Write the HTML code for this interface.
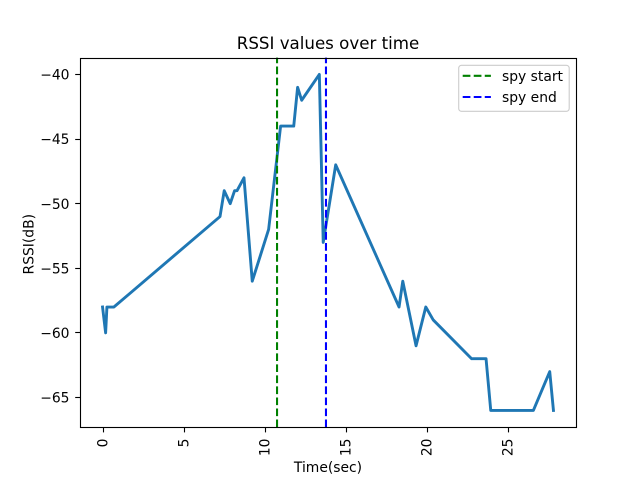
<!DOCTYPE html>
<html>
<head>
<meta charset="utf-8">
<style>
html,body{margin:0;padding:0;background:#fff;width:640px;height:480px;overflow:hidden}
svg{display:block}
text{font-family:"DejaVu Sans",sans-serif;fill:#000;font-size:13.89px}
</style>
</head>
<body>
<svg id="chart" width="640" height="480" viewBox="0 0 640 480" xmlns="http://www.w3.org/2000/svg">
  <rect x="0" y="0" width="640" height="480" fill="#fff"/>
  <rect x="80" y="57.6" width="496" height="369.6" fill="#fff"/>
  <g id="marks"></g>
  <g id="axes"></g>
  <text x="328" y="49" text-anchor="middle" style="font-size:16.67px">RSSI values over time</text>
  <text x="328" y="472" text-anchor="middle">Time(sec)</text>
  <text transform="translate(33.5,244.2) rotate(-90)" text-anchor="middle">RSSI(dB)</text>
  <g>
    <rect x="458.7" y="65.3" width="110.5" height="46" rx="2.8" ry="2.8" fill="#fff" fill-opacity="0.8" stroke="#ccc" stroke-width="1.1"/>
    <line x1="462.7" y1="75.8" x2="490.9" y2="75.8" stroke="#008000" stroke-width="2.08" stroke-dasharray="7.7 3.33"/>
    <text x="502" y="80.8">spy start</text>
    <line x1="462.7" y1="97" x2="490.9" y2="97" stroke="#0000ff" stroke-width="2.08" stroke-dasharray="7.7 3.33"/>
    <text x="502" y="102">spy end</text>
  </g>
</svg>
<script>
const times = [-0.05, 0.14, 0.22, 0.65, 7.2, 7.46, 7.83, 8.1, 8.25, 8.68, 9.19, 10.2, 10.94, 11.75, 11.99, 12.24, 13.33, 13.57, 14.34, 18.25, 18.48, 19.3, 19.9, 20.36, 22.73, 23.62, 23.91, 26.54, 27.55, 27.78];
const rssi = [-58, -60, -58, -58, -51, -49, -50, -49, -49, -48, -56, -52, -44, -44, -41, -42, -40, -53, -47, -58, -56, -61, -58, -59, -62, -62, -66, -66, -63, -66];
const spyStart = [10.72];
const spyEnd = [13.74];
const xTicks = [0, 5, 10, 15, 20, 25];
const yTicks = [-40, -45, -50, -55, -60, -65];

const NS = 'http://www.w3.org/2000/svg';
const L = 80, R = 576, T = 57.6, B = 427.2;
const xMin = -0.05, xMax = 27.78, yMin = -66, yMax = -40;
const xPad = (xMax - xMin) * 0.05, yPad = (yMax - yMin) * 0.05;
function xs(v) { return L + (v - (xMin - xPad)) / ((xMax - xMin) + 2 * xPad) * (R - L); }
function ys(v) { return B - (v - (yMin - yPad)) / ((yMax - yMin) + 2 * yPad) * (B - T); }
function snap(p) { return Math.floor(p) + 0.5; }
function make(tag, attrs, parent, txt) {
  const el = document.createElementNS(NS, tag);
  for (const k in attrs) el.setAttribute(k, attrs[k]);
  if (txt !== undefined) el.textContent = txt;
  parent.appendChild(el);
  return el;
}
const marks = document.getElementById('marks');
const axes = document.getElementById('axes');

const series = make('polyline', {
  points: times.map((t, i) => xs(t).toFixed(2) + ',' + ys(rssi[i]).toFixed(2)).join(' '),
  fill: 'none', stroke: '#1f77b4', 'stroke-width': 2.9, 'stroke-linejoin': 'round', 'stroke-linecap': 'square'
}, marks);



const startLine = make('line', {
  x1: xs(spyStart[0]), x2: xs(spyStart[0]), y1: B, y2: T,
  stroke: '#008000', 'stroke-width': 2.08, 'stroke-dasharray': '7.7 3.33'
}, marks);



const endLine = make('line', {
  x1: xs(spyEnd[0]), x2: xs(spyEnd[0]), y1: B, y2: T,
  stroke: '#0000ff', 'stroke-width': 2.08, 'stroke-dasharray': '7.7 3.33'
}, marks);



xTicks.forEach(v => {
  const x = xs(v);
  const px = snap(x);
  const tick = make('line', { x1: px, x2: px, y1: 427.5, y2: 432.4, stroke: '#000', 'stroke-width': 1.11 }, axes);
  
  
  const label = make('text', { transform: 'translate(' + (x + 4.2) + ',438.5) rotate(-90)', 'text-anchor': 'end' }, axes, String(v));
  
  
});

yTicks.forEach(v => {
  const y = ys(v);
  const py = snap(y);
  const tick = make('line', { x1: 75.2, x2: 80.5, y1: py, y2: py, stroke: '#000', 'stroke-width': 1.11 }, axes);
  
  
  const label = make('text', { x: 69.5, y: y + 5.2, 'text-anchor': 'end' }, axes, '\u2212' + Math.abs(v));
  
  
});

const frame = make('rect', { x: 80.5, y: 58.5, width: 496, height: 369, fill: 'none', stroke: '#000', 'stroke-width': 1.11 }, axes);


</script>
</body>
</html>
